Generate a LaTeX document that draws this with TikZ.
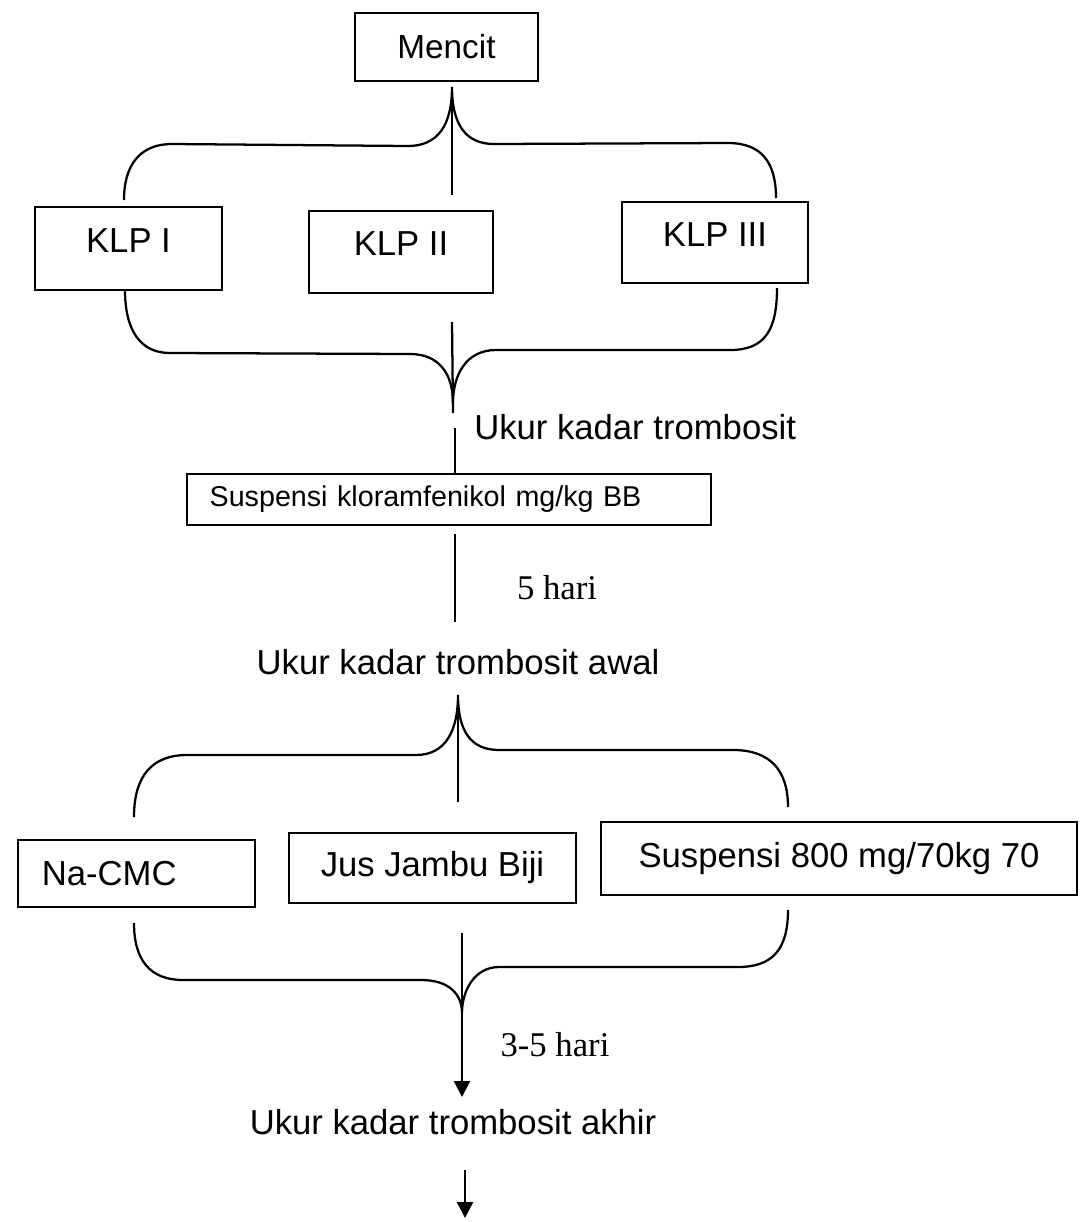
\documentclass[tikz,border=0pt]{standalone}
\usepackage{fontspec}
\setmainfont{Liberation Sans}
\newfontfamily\timesfont{Liberation Serif}
\usetikzlibrary{arrows.meta}

\begin{document}
\begin{tikzpicture}[x=0.75pt,y=0.75pt,yscale=-1,xscale=1,
  box/.style={draw,line width=1.8pt,inner sep=0pt,font=\fontsize{26}{30}\selectfont},
  klp/.style={box,text depth=12pt},
  lbl/.style={inner sep=0pt,font=\fontsize{26}{30}\selectfont},
  hari/.style={inner sep=0pt,font=\timesfont\fontsize{26}{30}\selectfont},
  conn/.style={line width=1.7pt},
  arr/.style={line width=1.7pt,-{Triangle[length=12pt,width=12pt]}}]
\useasboundingbox (0,0) rectangle (1080,1222);

% Boxes
\node[box,minimum width=137pt,minimum height=51pt,font=\fontsize{25}{30}\selectfont] (mencit) at (446.5,47) {Mencit};
\node[klp,minimum width=140pt,minimum height=62pt] (klp1) at (128.5,248.5) {KLP I};
\node[klp,minimum width=138pt,minimum height=61.5pt] (klp2) at (401,252) {KLP II};
\node[klp,minimum width=139.5pt,minimum height=61pt] (klp3) at (715,242.5) {KLP III};
\node[box,minimum height=38pt,text width=359pt,align=left,inner xsep=17pt,font=\fontsize{21.5}{25}\selectfont] (kloram) at (449,499.5) {Suspensi kloramfenikol mg/kg BB};
\node[box,minimum height=50pt,text width=142pt,align=left,inner xsep=18pt] (nacmc) at (136.5,873.5) {Na-CMC};
\node[box,minimum width=215pt,minimum height=52.5pt] (jus) at (432.5,868) {Jus Jambu Biji};
\node[box,minimum width=357pt,minimum height=55pt] (susp) at (839,858.5) {Suspensi 800 mg/70kg 70};

% Text Node
\node[lbl,anchor=west] (ukur) at (474,427) {Ukur kadar trombosit};
\node[hari] (hari5) at (557,588) {5 hari};
\node[lbl] (awal) at (458,662) {Ukur kadar trombosit awal};
\node[hari] (hari35) at (555,1045) {3-5 hari};
\node[lbl] (akhir) at (453,1122) {Ukur kadar trombosit akhir};

% Coordinates
\coordinate (cusp1) at (452,87);
\coordinate (stem1) at (452,195);
\coordinate (cusp2) at (453,403);
\coordinate (join1) at (452,322);
\coordinate (gap1a) at (453,413);
\coordinate (gap1b) at (455,428);
\coordinate (hari5a) at (455,534);
\coordinate (hari5b) at (455,622);
\coordinate (cusp3) at (458,695);
\coordinate (stem3) at (458,802);
\coordinate (cusp4) at (462,1013);
\coordinate (join4) at (462,933);
\coordinate (tip4) at (462,1097);
\coordinate (out) at (465,1170);
\coordinate (tip5) at (465,1218);

% Brace: Mencit to KLP
\draw[conn] (124,200) .. controls (124,165) and (140,144) .. (172,144) -- (408,146) .. controls (438,146) and (452,125) .. (cusp1) .. controls (452,125) and (466,144) .. (494,144) -- (728,143) .. controls (762,143) and (776,163) .. (776,198);
\draw[conn] (cusp1) -- (stem1);

% Brace: KLP to kloramfenikol
\draw[conn] (125,290) .. controls (125,330) and (140,353) .. (170,353) -- (410,354) .. controls (440,354) and (453,375) .. (cusp2) .. controls (453,375) and (466,350) .. (496,350) -- (730,350) .. controls (765,350) and (777,330) .. (777,288);
\draw[conn] (join1) -- (gap1a);
\draw[conn] (gap1b) -- (gap1b |- kloram.north);
\draw[conn] (hari5a) -- (hari5b);

% Brace: awal to treatments
\draw[conn] (134,817) .. controls (134,776) and (152,755) .. (187,755) -- (416,755) .. controls (446,755) and (458,730) .. (cusp3) .. controls (458,730) and (470,750) .. (499,750) -- (733,750) .. controls (770,750) and (788,770) .. (788,807);
\draw[conn] (cusp3) -- (stem3);

% Brace: treatments to akhir
\draw[conn] (134,923) .. controls (134,960) and (150,980) .. (183,980) -- (421,980) .. controls (450,980) and (462,995) .. (cusp4) .. controls (462,990) and (475,967) .. (499,967) -- (738,967) .. controls (772,967) and (788,950) .. (788,910);
\draw[arr] (join4) -- (tip4);
\draw[arr] (out) -- (tip5);

\end{tikzpicture}
\end{document}
